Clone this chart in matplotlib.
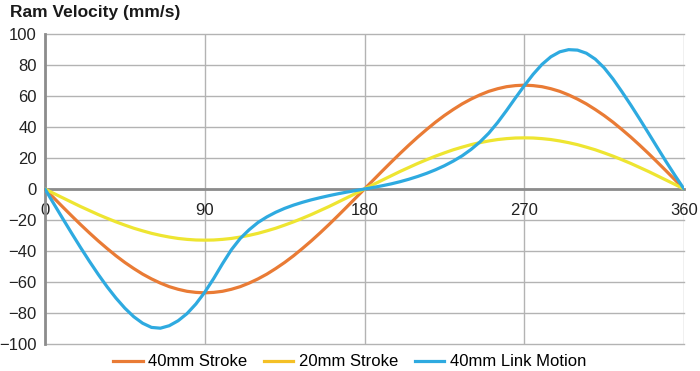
import numpy as np
import matplotlib.pyplot as plt
from matplotlib.lines import Line2D

plt.rcParams['font.family'] = ['Liberation Sans', 'DejaVu Sans']

# crank angle (deg), 5 degree steps
angle = list(range(0, 361, 5))

stroke40 = [0, -5.8, -11.6, -17.3, -22.9, -28.3, -33.5, -38.4, -43.1, -47.4, -51.3, -54.9,
            -58.0, -60.7, -63.0, -64.7, -66.0, -66.7, -67.0, -66.7, -66.0, -64.7, -63.0, -60.7,
            -58.0, -54.9, -51.3, -47.4, -43.1, -38.4, -33.5, -28.3, -22.9, -17.3, -11.6, -5.8,
            0, 5.8, 11.6, 17.3, 22.9, 28.3, 33.5, 38.4, 43.1, 47.4, 51.3, 54.9,
            58.0, 60.7, 63.0, 64.7, 66.0, 66.7, 67.0, 66.7, 66.0, 64.7, 63.0, 60.7,
            58.0, 54.9, 51.3, 47.4, 43.1, 38.4, 33.5, 28.3, 22.9, 17.3, 11.6, 5.8, 0]

stroke20 = [0, -2.9, -5.7, -8.5, -11.3, -13.9, -16.5, -18.9, -21.2, -23.3, -25.3, -27.0,
            -28.6, -29.9, -31.0, -31.9, -32.5, -32.9, -33.0, -32.9, -32.5, -31.9, -31.0, -29.9,
            -28.6, -27.0, -25.3, -23.3, -21.2, -18.9, -16.5, -13.9, -11.3, -8.5, -5.7, -2.9,
            0, 2.9, 5.7, 8.5, 11.3, 13.9, 16.5, 18.9, 21.2, 23.3, 25.3, 27.0,
            28.6, 29.9, 31.0, 31.9, 32.5, 32.9, 33.0, 32.9, 32.5, 31.9, 31.0, 29.9,
            28.6, 27.0, 25.3, 23.3, 21.2, 18.9, 16.5, 13.9, 11.3, 8.5, 5.7, 2.9, 0]

link40 = [0, -9.6, -19.1, -28.5, -37.7, -46.6, -55.1, -63.1, -70.4, -76.9, -82.4, -86.6,
          -89.3, -89.8, -88.2, -85.0, -80.4, -74.2, -66.6, -57.8, -48.2, -39.2, -31.9, -26.3,
          -21.6, -18.0, -15.0, -12.5, -10.4, -8.6, -7.0, -5.6, -4.3, -3.1, -2.0, -1.0,
          0, 1.0, 2.1, 3.3, 4.7, 6.3, 8.1, 10.1, 12.4, 15.0, 18.0, 21.4,
          25.5, 30.3, 36.0, 42.9, 50.6, 58.7, 66.6, 74.0, 80.4, 85.3, 88.5, 89.9,
          89.6, 87.6, 83.8, 78.2, 71.0, 62.8, 54.2, 45.2, 36.0, 26.7, 17.5, 8.6, 0]

labels = ['40mm Stroke', '20mm Stroke', '40mm Link Motion']
line_colors = ['#E97B35', '#EEE531', '#2EAAE0']
legend_colors = ['#E97B35', '#F4C026', '#2EAAE0']

fig = plt.figure(figsize=(7, 3.71), dpi=100)
ax = fig.add_axes([45/700, 1-344/371, 639/700, 310/371])

for ys, c in zip([stroke40, stroke20, link40], line_colors):
    ax.plot(angle, ys, color=c, lw=2.3, zorder=3, solid_capstyle='round',
            solid_joinstyle='round')

ax.set_xlim(0, 360)
ax.set_ylim(-100, 100)
ax.set_xticks([0, 90, 180, 270, 360])
ax.set_yticks(range(-100, 101, 20))

ax.grid(True, color='#B3B3B3', lw=1.0)
for gl in ax.yaxis.get_gridlines() + ax.xaxis.get_gridlines():
    gl.set_clip_on(False)

ax.spines['left'].set_color('#8C8C8C')
ax.spines['left'].set_linewidth(2)
ax.spines['bottom'].set_position(('data', 0))
ax.spines['bottom'].set_color('#8C8C8C')
ax.spines['bottom'].set_linewidth(2)
ax.spines['top'].set_visible(False)
ax.spines['right'].set_visible(False)

ax.tick_params(axis='both', length=0, labelsize=12, colors='#222222')
ax.tick_params(axis='y', pad=6)
ax.tick_params(axis='x', pad=10)

fig.text(10/700, 1-17/371, 'Ram Velocity (mm/s)', fontsize=12.5, fontweight='bold',
         color='#1a1a1a', ha='left', va='baseline')

handles = [Line2D([], [], color=c, lw=2.3) for c in legend_colors]
fig.legend(handles, labels, loc='center', bbox_to_anchor=(350/700, 1-362/371), ncol=3,
           frameon=False, fontsize=12, handlelength=1.75, handletextpad=0.35,
           columnspacing=1.0, borderpad=0)

fig.savefig('out.png', dpi=100)
